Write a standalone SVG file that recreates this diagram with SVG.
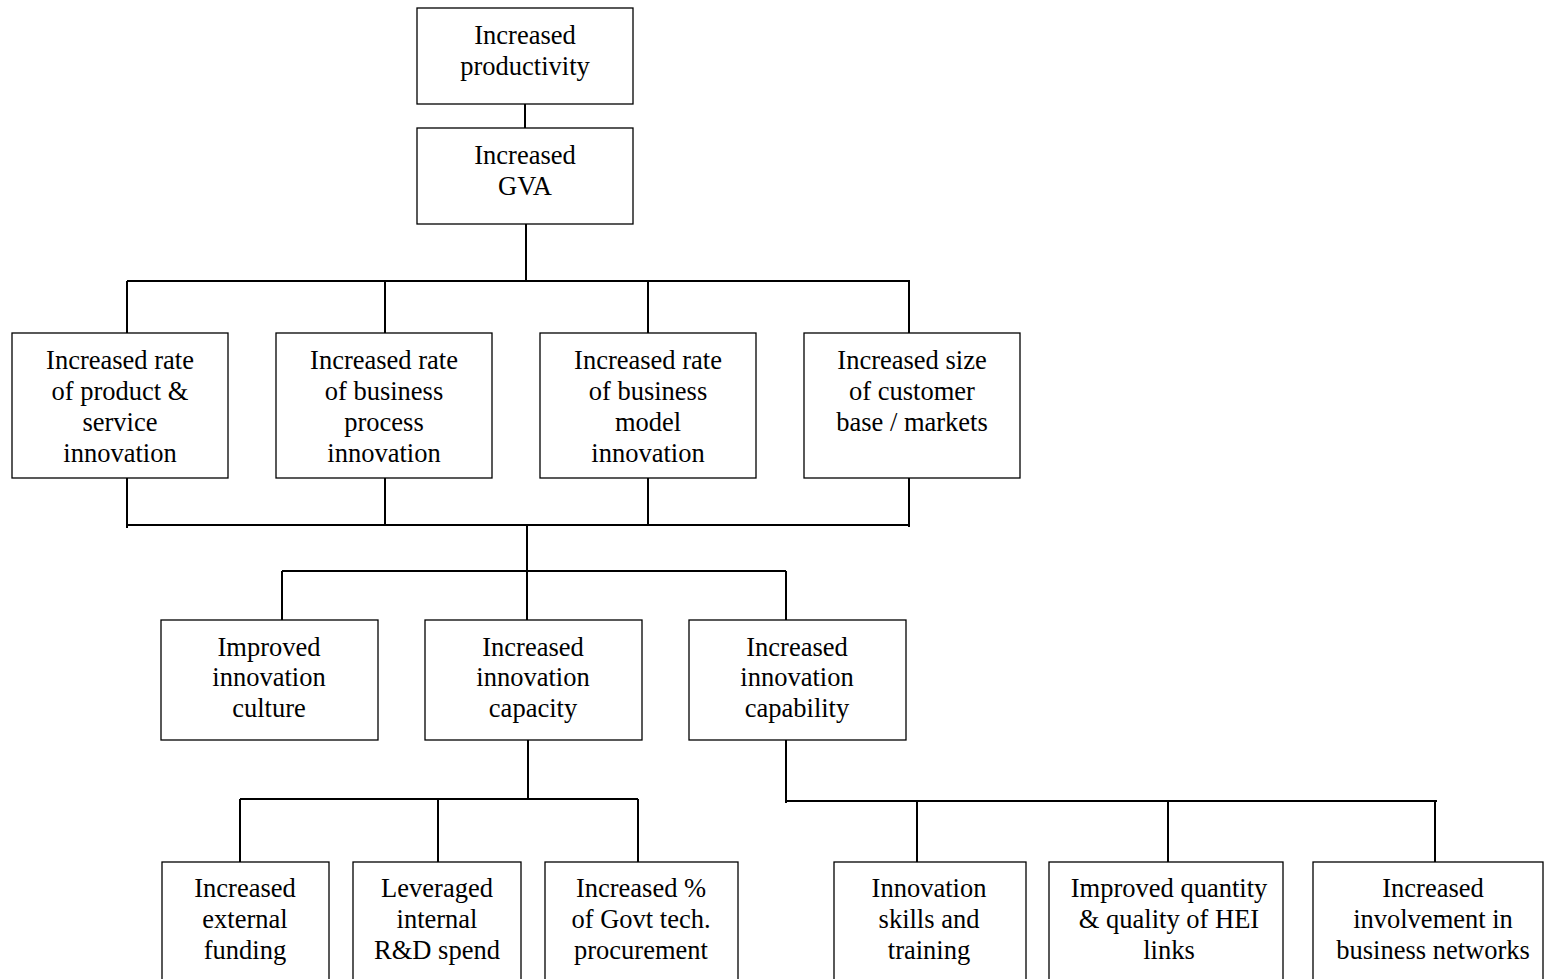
<svg xmlns="http://www.w3.org/2000/svg" width="1544" height="979" viewBox="0 0 1544 979">
<style>
.box{fill:#fff;stroke:#000;stroke-width:1.3}
.ln{stroke:#000;stroke-width:2;fill:none}
.t text{font-size:26.5px;fill:#000;text-anchor:middle}
</style>
<rect width="1544" height="979" fill="#fff"/>
<g id="connectors">
<path class="ln" d="M525 104V128M526 224V281M127 281H910M127 281V333M385 281V333M648 281V333M909 281V333"/>
<path class="ln" d="M127 478V528M385 478V525M648 478V525M909 478V527M127 525H910M527 525V571"/>
<path class="ln" d="M282 571H786M282 571V620M527 571V620M786 571V620"/>
<path class="ln" d="M528 740V799M240 799H638M240 799V862M438 799V862M638 799V862"/>
<path class="ln" d="M786 740V803M786 801H1437M917 801V862M1168 801V862M1435 801V862"/>
</g>
<g class="t" font-family="'Liberation Serif', 'Times New Roman', 'DejaVu Serif', serif">
<g id="n1"><rect class="box" x="417" y="8" width="216" height="96"/><text x="525" y="44">Increased</text><text x="525" y="75">productivity</text></g>
<g id="n2"><rect class="box" x="417" y="128" width="216" height="96"/><text x="525" y="164">Increased</text><text x="525" y="195">GVA</text></g>
<g id="n3"><rect class="box" x="12" y="333" width="216" height="145"/><text x="120" y="369">Increased rate</text><text x="120" y="400">of product &amp;</text><text x="120" y="431">service</text><text x="120" y="462">innovation</text></g>
<g id="n4"><rect class="box" x="276" y="333" width="216" height="145"/><text x="384" y="369">Increased rate</text><text x="384" y="400">of business</text><text x="384" y="431">process</text><text x="384" y="462">innovation</text></g>
<g id="n5"><rect class="box" x="540" y="333" width="216" height="145"/><text x="648" y="369">Increased rate</text><text x="648" y="400">of business</text><text x="648" y="431">model</text><text x="648" y="462">innovation</text></g>
<g id="n6"><rect class="box" x="804" y="333" width="216" height="145"/><text x="912" y="369">Increased size</text><text x="912" y="400">of customer</text><text x="912" y="431">base / markets</text></g>
<g id="n7"><rect class="box" x="161" y="620" width="217" height="120"/><text x="269" y="656">Improved</text><text x="269" y="686">innovation</text><text x="269" y="717">culture</text></g>
<g id="n8"><rect class="box" x="425" y="620" width="217" height="120"/><text x="533" y="656">Increased</text><text x="533" y="686">innovation</text><text x="533" y="717">capacity</text></g>
<g id="n9"><rect class="box" x="689" y="620" width="217" height="120"/><text x="797" y="656">Increased</text><text x="797" y="686">innovation</text><text x="797" y="717">capability</text></g>
<g id="n10"><rect class="box" x="162" y="862" width="167" height="130"/><text x="245" y="897">Increased</text><text x="245" y="928">external</text><text x="245" y="959">funding</text></g>
<g id="n11"><rect class="box" x="353" y="862" width="168" height="130"/><text x="437" y="897">Leveraged</text><text x="437" y="928">internal</text><text x="437" y="959">R&amp;D spend</text></g>
<g id="n12"><rect class="box" x="545" y="862" width="193" height="130"/><text x="641" y="897">Increased %</text><text x="641" y="928">of Govt tech.</text><text x="641" y="959">procurement</text></g>
<g id="n13"><rect class="box" x="834" y="862" width="192" height="130"/><text x="929" y="897">Innovation</text><text x="929" y="928">skills and</text><text x="929" y="959">training</text></g>
<g id="n14"><rect class="box" x="1049" y="862" width="234" height="130"/><text x="1169" y="897">Improved quantity</text><text x="1169" y="928">&amp; quality of HEI</text><text x="1169" y="959">links</text></g>
<g id="n15"><rect class="box" x="1313" y="862" width="230" height="130"/><text x="1433" y="897">Increased</text><text x="1433" y="928">involvement in</text><text x="1433" y="959">business networks</text></g>
</g>
</svg>
